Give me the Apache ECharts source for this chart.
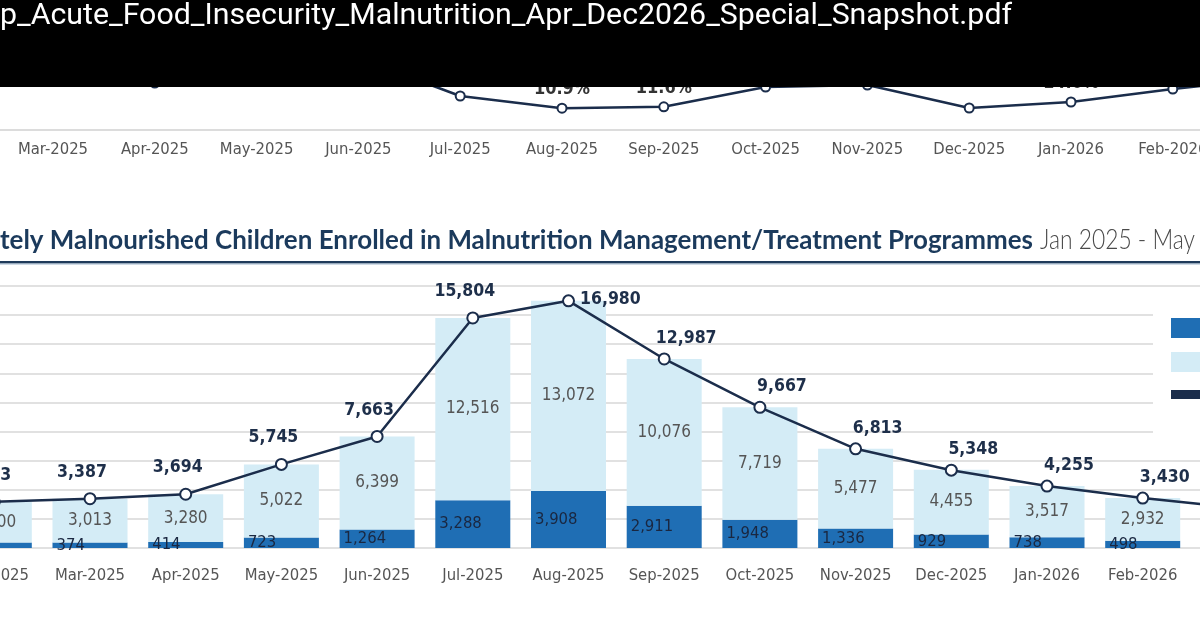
<!DOCTYPE html>
<html>
<head>
<meta charset="utf-8">
<script src="https://cdn.jsdelivr.net/npm/echarts@6/dist/echarts.min.js"></script>
<style>
html,body{margin:0;padding:0;background:#fff;overflow:hidden;}
#view{position:relative;width:1200px;height:628px;overflow:hidden;}
#c{position:absolute;left:-202px;top:0;width:1732px;height:628px;}
</style>
</head>
<body>
<div id="view"><div id="c"></div></div>
<script>
// ---- data ----
const months = ['Jan-2025','Feb-2025','Mar-2025','Apr-2025','May-2025','Jun-2025','Jul-2025','Aug-2025','Sep-2025','Oct-2025','Nov-2025','Dec-2025','Jan-2026','Feb-2026','Mar-2026','Apr-2026','May-2026'];
const samValues = [350, 373, 374, 414, 723, 1264, 3288, 3908, 2911, 1948, 1336, 929, 738, 498, 420, 380, 340];
const mamValues = [2500, 2800, 3013, 3280, 5022, 6399, 12516, 13072, 10076, 7719, 5477, 4455, 3517, 2932, 2330, 2100, 1900];
const totalValues = [2850, 3173, 3387, 3694, 5745, 7663, 15804, 16980, 12987, 9667, 6813, 5348, 4255, 3430, 2750, 2480, 2240];
const upperValues = [28, 29, 30, 23.5, 33, 36, 17, 10.9, 11.6, 21.5, 22.5, 11, 14.0, 20.5, 26, 27, 28];
const upperLabels = ['', '', '', '', '', '', '', '10.9%', '11.6%', '', '', '', '14.0%', '', '', '', ''];
const seriesNames = ['SAM', 'MAM', 'Total'];
const fileName = 'p_Acute_Food_Insecurity_Malnutrition_Apr_Dec2026_Special_Snapshot.pdf';
const titleBold = 'tely Malnourished Children Enrolled in Malnutrition Management/Treatment Programmes';
const titleLight = 'Jan 2025 - May 2026';

// ---- layout: the picture is a crop of a wider chart; the canvas is shifted left ----
const SHIFT = 202;          // canvas x of the visible window's left edge

// ---- styling ----
const NAVY = '#1b2d4b';
const SAMC = '#1f6eb4';
const MAMC = '#d4ecf6';
const NARROW = "'Liberation Sans Narrow','DejaVu Sans Condensed','Arial Narrow',sans-serif";
const peakIdx = totalValues.indexOf(Math.max(...totalValues));
const fmtNum = v => Number(v).toLocaleString('en-US');

function measure(txt, font){
  const ctx = document.createElement('canvas').getContext('2d');
  ctx.font = font;
  return ctx.measureText(txt).width;
}
const titleFont = "bold 27px Lato, 'Open Sans', sans-serif";
const titleScale = 1033 / measure(titleBold, titleFont);
const lightFont = "300 27px Lato, 'Open Sans', sans-serif";
const lightScale = 155 / measure('Jan 2025 - May', lightFont);
const fileFont = "29px Roboto, 'Noto Sans', sans-serif";
const fileScale = 1012 / measure(fileName, fileFont);

const chart = echarts.init(document.getElementById('c'), null, {renderer:'canvas'});

const option = {
  animation: false,
  backgroundColor: '#fff',
  grid: [
    {left: 0.5, right: 0.9, top: 10, height: 120},
    {left: 52.75, right: 52.35, top: 286, bottom: 80}
  ],
  xAxis: [
    {type:'category', gridIndex:0, data: months,
     axisLine:{show:true, lineStyle:{color:'#dcdcdc', width:2}},
     axisTick:{show:false},
     axisLabel:{color:'#555', fontFamily:NARROW, fontSize:16.5, margin:11, interval:0}},
    {type:'category', gridIndex:1, data: months,
     axisLine:{show:false}, axisTick:{show:false},
     axisLabel:{color:'#555', fontFamily:NARROW, fontSize:16.5, margin:19, interval:0}}
  ],
  yAxis: [
    {type:'value', gridIndex:0, min:0, max:60, show:false, splitLine:{show:false}},
    {type:'value', gridIndex:1, min:0, max:18000, interval:2000,
     axisLabel:{show:false}, axisLine:{show:false}, axisTick:{show:false},
     splitLine:{show:true, lineStyle:{color:'#e1e1e1', width:2}}}
  ],
  legend: {
    orient:'vertical', left:1153 + SHIFT, top:292,
    backgroundColor:'#fff',
    padding:[26, 40, 45, 18],
    itemWidth:40, itemHeight:20, itemGap:14,
    textStyle:{color:'#333', fontFamily:NARROW, fontSize:17},
    data:[
      {name:seriesNames[0], icon:'rect'},
      {name:seriesNames[1], icon:'rect'},
      {name:seriesNames[2], icon:'path://M0,0H40V9H0Z'}
    ]
  },
  series: [
    {
      name:'upper', type:'line', xAxisIndex:0, yAxisIndex:0,
      data: upperValues,
      symbol:'emptyCircle', symbolSize:9,
      lineStyle:{color:NAVY, width:2.5},
      itemStyle:{color:NAVY, borderWidth:2},
      label:{show:true, position:'top', distance:4,
        formatter: p => upperLabels[p.dataIndex] || '',
        color:'#333', fontFamily:NARROW, fontWeight:'bold', fontSize:18},
      z:3
    },
    {
      name:seriesNames[0], type:'bar', stack:'c', xAxisIndex:1, yAxisIndex:1,
      data: samValues, barWidth:75,
      itemStyle:{color:SAMC},
      label:{show:true, position:'insideLeft', distance:4,
        formatter: p => fmtNum(p.value),
        color:'#1a2740', fontFamily:NARROW, fontSize:16.5}
    },
    {
      name:seriesNames[1], type:'bar', stack:'c', xAxisIndex:1, yAxisIndex:1,
      data: mamValues, barWidth:75,
      itemStyle:{color:MAMC},
      label:{show:true, position:'inside',
        formatter: p => fmtNum(p.value),
        color:'#555', fontFamily:NARROW, fontSize:17}
    },
    {
      name:seriesNames[2], type:'line', xAxisIndex:1, yAxisIndex:1,
      data: totalValues.map((v, i) => ({
        value: v,
        label: i < peakIdx ? {position:'top', offset:[-8, -6]}
             : i === peakIdx ? {position:'right', offset:[0, -1]}
             : {position:'top', offset:[22, 0]}
      })),
      symbol:'emptyCircle', symbolSize:11,
      lineStyle:{color:NAVY, width:2.5},
      itemStyle:{color:NAVY, borderWidth:2.2},
      label:{show:true, distance:5,
        formatter: p => fmtNum(p.value),
        color:'#1e2f4a', fontFamily:NARROW, fontWeight:'bold', fontSize:17.5},
      z:5
    }
  ],
  graphic: [
    {type:'rect', shape:{x:0, y:0, width:1732, height:87}, style:{fill:'#000'}, z:100},
    {type:'text', x:SHIFT, y:17, scaleX:fileScale, z:101,
     style:{text:fileName, font:fileFont, fill:'#fff', textVerticalAlign:'middle', verticalAlign:'middle'}},
    {type:'text', x:SHIFT, y:240, scaleX:titleScale, z:50,
     style:{text:titleBold, font:titleFont, fill:'#1b3a5c', textVerticalAlign:'middle', verticalAlign:'middle'}},
    {type:'text', x:SHIFT + 1040, y:240, scaleX:lightScale, z:50,
     style:{text:titleLight, font:lightFont, fill:'#4a4a4a', textVerticalAlign:'middle', verticalAlign:'middle'}},
    {type:'rect', shape:{x:0, y:261, width:1732, height:2.5}, style:{fill:'#1f3a5a'}, z:50},
    {type:'rect', shape:{x:0, y:263.5, width:1732, height:1}, style:{fill:'#9fb6cc'}, z:50}
  ]
};
chart.setOption(option);
</script>
</body>
</html>
